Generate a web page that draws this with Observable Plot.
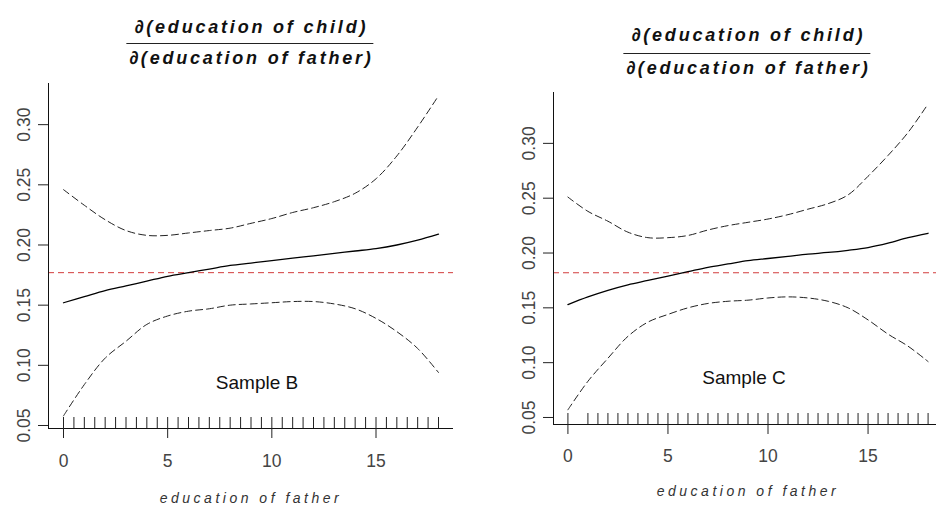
<!DOCTYPE html>
<html>
<head>
<meta charset="utf-8">
<script src="https://cdn.jsdelivr.net/npm/d3@7"></script>
<script src="https://cdn.jsdelivr.net/npm/@observablehq/plot@0.6"></script>
<style>
html, body { margin: 0; padding: 0; background: #fff; }
#wrap { position: relative; width: 936px; height: 513px; overflow: hidden; background: #fff; }
.panel { position: absolute; top: 0; }
.frac { position: absolute; text-align: center; font-family: "Liberation Sans", Arial, sans-serif;
  font-style: italic; font-weight: bold; font-size: 18px; letter-spacing: 2.8px; color: #111;
  transform: translateX(-50%); white-space: nowrap; }
.frac .num { display: block; line-height: 20px; padding: 0 0 var(--gap1, 6px) 2.8px; border-bottom: 1px solid #222; }
.frac .den { display: block; line-height: 20px; padding: var(--gap2, 4px) 0 0 2.8px; }
</style>
</head>
<body>
<div id="wrap">
  <div class="frac" id="fracB" style="left:250px; top:17px; --gap1:6px; --gap2:4px;"><span class="num"></span><span class="den"></span></div>
  <div class="frac" id="fracC" style="left:747px; top:25px; --gap1:8px; --gap2:4px;"><span class="num"></span><span class="den"></span></div>
</div>
<script>
// ---- data ----
const educationFather = [0, 1, 2, 3, 4, 5, 6, 7, 8, 9, 10, 11, 12, 13, 14, 15, 16, 17, 18];

const estimateB = [0.152, 0.157, 0.162, 0.166, 0.170, 0.174, 0.177, 0.180, 0.183, 0.185, 0.187, 0.189, 0.191, 0.193, 0.195, 0.197, 0.200, 0.204, 0.209];
const upperB    = [0.246, 0.233, 0.221, 0.212, 0.208, 0.208, 0.210, 0.212, 0.214, 0.218, 0.222, 0.227, 0.231, 0.236, 0.243, 0.255, 0.274, 0.298, 0.324];
const lowerB    = [0.058, 0.084, 0.106, 0.120, 0.134, 0.141, 0.145, 0.147, 0.150, 0.151, 0.152, 0.153, 0.153, 0.151, 0.147, 0.139, 0.128, 0.114, 0.094];

const estimateC = [0.153, 0.160, 0.166, 0.171, 0.175, 0.179, 0.183, 0.187, 0.190, 0.193, 0.195, 0.197, 0.199, 0.2005, 0.2025, 0.205, 0.209, 0.214, 0.218];
const upperC    = [0.251, 0.238, 0.229, 0.219, 0.214, 0.214, 0.216, 0.221, 0.225, 0.228, 0.231, 0.235, 0.240, 0.245, 0.253, 0.270, 0.289, 0.310, 0.336];
const lowerC    = [0.057, 0.083, 0.104, 0.124, 0.137, 0.144, 0.150, 0.154, 0.156, 0.157, 0.159, 0.160, 0.159, 0.156, 0.150, 0.139, 0.126, 0.115, 0.101];

const rugB = [0, 0.5, 1, 1.5, 2, 2.5, 3, 3.5, 4, 4.5, 5, 5.5, 6, 6.5, 7, 7.5, 8, 8.5, 9, 9.5, 10, 10.5, 11, 11.5, 12, 12.5, 13, 13.5, 14, 14.5, 15, 15.5, 16, 16.5, 17, 17.5, 18];
const rugC = [0, 1, 1.5, 2, 2.5, 3, 3.5, 4, 4.5, 5, 5.5, 6, 6.5, 7, 7.5, 8, 8.5, 9, 9.5, 10, 10.5, 11, 11.5, 12, 12.5, 13, 13.5, 14, 14.5, 15, 15.5, 16, 16.5, 17, 17.5, 18];

const referenceB = 0.177;
const referenceC = 0.182;

const xTicks = [0, 5, 10, 15];
const yTicks = [0.05, 0.10, 0.15, 0.20, 0.25, 0.30];
const xDomain = [-0.72, 18.72];
const yDomainB = [0.0475, 0.3342];
const yDomainC = [0.0436, 0.3464];

const panelLabels = ["Sample B", "Sample C"];
const xTitle = "education of father";
const titleNumerator = "\u2202(education of child)";
const titleDenominator = "\u2202(education of father)";

// ---- drawing ----
const rows = (ys) => educationFather.map((x, i) => ({x, y: ys[i]}));

function panel({est, upper, lower, rug, ref, yDomain, width, height, margin, label, labelDx, labelDy, titleDy, tickPadX}) {
  const frameH = height - margin.top - margin.bottom;
  const svg = Plot.plot({
    width, height,
    marginTop: margin.top, marginBottom: margin.bottom, marginLeft: margin.left, marginRight: margin.right,
    x: {domain: xDomain},
    y: {domain: yDomain},
    style: {fontFamily: '"Liberation Sans Narrow","Arial Narrow","Liberation Sans",Arial,sans-serif', fontSize: "17.5px", color: "#222", background: "transparent", maxWidth: "none", overflow: "visible"},
    marks: [
      Plot.ruleY([ref], {stroke: "#d23c3c", strokeDasharray: "6,4", strokeWidth: 1}),
      Plot.line(rows(upper), {x: "x", y: "y", stroke: "#222", strokeWidth: 1, strokeDasharray: "7,4", curve: "catmull-rom"}),
      Plot.line(rows(lower), {x: "x", y: "y", stroke: "#222", strokeWidth: 1, strokeDasharray: "7,4", curve: "catmull-rom"}),
      Plot.line(rows(est), {x: "x", y: "y", stroke: "#000", strokeWidth: 1.3, curve: "catmull-rom"}),
      Plot.ruleX(rug, {x: d => d, insetTop: frameH - 11, stroke: "#222", strokeWidth: 1}),
      Plot.ruleX([xDomain[0]], {stroke: "#111", strokeWidth: 1}),
      Plot.ruleY([yDomain[0]], {stroke: "#111", strokeWidth: 1}),
      Plot.axisY({ticks: yTicks, tickSize: 10, tickPadding: 9, tickRotate: -90, tickFormat: d3.format(".2f"), label: null, stroke: "#222", fill: "#444"}),
      Plot.axisX({ticks: xTicks, tickSize: 10, tickPadding: tickPadX, label: null, stroke: "#222", fill: "#444"}),
      Plot.text([label], {frameAnchor: "bottom", dx: labelDx, dy: labelDy, fontSize: 19, fill: "#111", fontFamily: '"Liberation Sans",Arial,sans-serif'}),
      Plot.text([xTitle], {frameAnchor: "bottom", dy: titleDy, fontSize: 14, fontStyle: "italic", fill: "#333", fontFamily: '"Liberation Sans",Arial,sans-serif'})
    ]
  });
  svg.querySelectorAll("text").forEach(t => {
    if (t.textContent === xTitle) t.setAttribute("letter-spacing", "3.5px");
  });
  return svg;
}

const wrap = document.getElementById("wrap");

const svgB = panel({
  est: estimateB, upper: upperB, lower: lowerB, rug: rugB, ref: referenceB, yDomain: yDomainB,
  width: 470, height: 513, margin: {top: 83, bottom: 85, left: 48, right: 17},
  label: panelLabels[0], labelDx: 6, labelDy: -40, titleDy: 74, tickPadX: 16
});
svgB.classList.add("panel");
svgB.style.left = "0px";
wrap.appendChild(svgB);

const svgC = panel({
  est: estimateC, upper: upperC, lower: lowerC, rug: rugC, ref: referenceC, yDomain: yDomainC,
  width: 472, height: 513, margin: {top: 92, bottom: 89, left: 83, right: 0},
  label: panelLabels[1], labelDx: -4, labelDy: -41, titleDy: 71, tickPadX: 15
});
svgC.classList.add("panel");
svgC.style.left = "470px";
wrap.appendChild(svgC);

for (const id of ["fracB", "fracC"]) {
  const el = document.getElementById(id);
  el.querySelector(".num").textContent = titleNumerator;
  el.querySelector(".den").textContent = titleDenominator;
}
</script>
</body>
</html>
